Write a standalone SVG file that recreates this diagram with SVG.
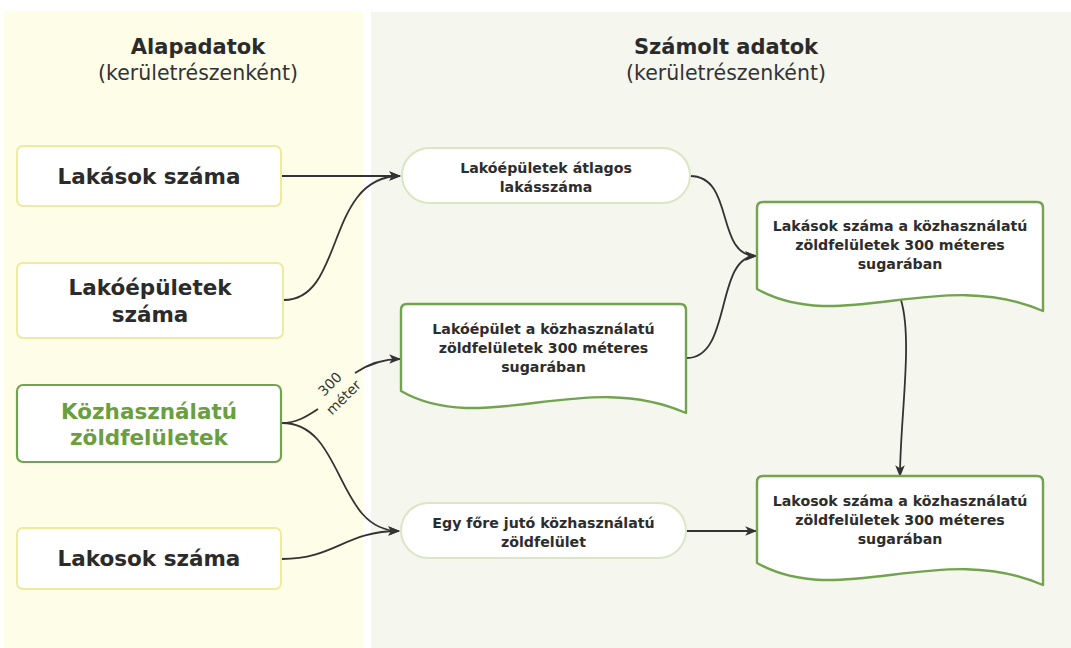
<svg xmlns="http://www.w3.org/2000/svg" width="1071" height="648" viewBox="0 0 1071 648">
<style>
.big{font-family:"DejaVu Sans",sans-serif;font-weight:bold;font-size:21.5px;fill:#2b2b2b;text-anchor:middle}
.big.g{fill:#6a9e3f}
.sm{font-family:"DejaVu Sans",sans-serif;font-weight:bold;font-size:14.2px;fill:#2d2d2d;text-anchor:middle}
.hd{font-family:"DejaVu Sans",sans-serif;font-weight:bold;font-size:21px;fill:#2b2b2b;text-anchor:middle}
.sub{font-family:"DejaVu Sans",sans-serif;font-size:20.5px;fill:#333;text-anchor:middle}
.lbl{font-family:"DejaVu Sans",sans-serif;font-size:14px;fill:#333;text-anchor:middle}
.yb{fill:#fff;stroke:#eeea9e;stroke-width:2}
.gb{fill:#fff;stroke:#72a34e;stroke-width:2.2}
.st{fill:#fff;stroke:#dce5c4;stroke-width:2}
.doc{fill:#fff;stroke:#72a34e;stroke-width:2.4;stroke-linejoin:round}
.c{fill:none;stroke:#333;stroke-width:1.8;marker-end:url(#arr)}
.cn{fill:none;stroke:#333;stroke-width:1.8}
</style>
<defs>
<marker id="arr" viewBox="0 0 10 10" refX="9" refY="5" markerWidth="12" markerHeight="12" markerUnits="userSpaceOnUse" orient="auto">
<path d="M0,1 L10,5 L0,9 L2.5,5 z" fill="#333"/>
</marker>
</defs>
<rect x="0" y="0" width="1071" height="648" fill="#fff"/>
<g id="panels">
<rect x="4" y="11" width="359" height="637" fill="#fdfde8"/>
<rect x="371" y="12" width="700" height="636" fill="#f5f6ee"/>
<text class="hd" x="198" y="54">Alapadatok</text>
<text class="sub" x="198" y="80">(kerületrészenként)</text>
<text class="hd" x="726" y="54">Számolt adatok</text>
<text class="sub" x="726" y="80">(kerületrészenként)</text>
</g>
<g id="connectors">
<path class="c" d="M282,176 L400,176"/>
<path class="c" d="M284,300 C345,300 325,176 400,176"/>
<path class="cn" d="M282,423 C296,423 306,417 318,409"/>
<path class="c" d="M355,373 C370,363 384,359 400,359"/>
<path class="c" d="M282,423 C345,423 335,531 399,531"/>
<path class="c" d="M282,559 C335,559 345,531 399,531"/>
<path class="c" d="M690,176 C735,176 715,256 756,256"/>
<path class="c" d="M687,358 C732,358 715,256 756,256"/>
<path class="c" d="M687,531 L756,531"/>
<path class="c" d="M901,300 C913,340 900,420 900,476"/>
</g>
<g id="label-300">
<g transform="translate(337,391) rotate(-45)">
<text class="lbl" x="0" y="-5">300</text>
<text class="lbl" x="0" y="14">méter</text>
</g>
</g>
<g id="n-lakasok">
<rect class="yb" x="17" y="146" width="264" height="60" rx="6"/>
<text class="big" x="149" y="184">Lakások száma</text>
</g>
<g id="n-lakoepuletek">
<rect class="yb" x="17" y="263" width="266" height="75" rx="6"/>
<text class="big" x="150" y="295">Lakóépületek</text>
<text class="big" x="150" y="322">száma</text>
</g>
<g id="n-kozhasznalatu">
<rect class="gb" x="17" y="385" width="264" height="77" rx="6"/>
<text class="big g" x="149" y="419">Közhasználatú</text>
<text class="big g" x="149" y="445">zöldfelületek</text>
</g>
<g id="n-lakosok">
<rect class="yb" x="17" y="528" width="264" height="61" rx="6"/>
<text class="big" x="149" y="566">Lakosok száma</text>
</g>
<g id="n-atlagos">
<rect class="st" x="402" y="148" width="288" height="55" rx="27.5"/>
<text class="sm" x="546" y="173">Lakóépületek átlagos</text>
<text class="sm" x="546" y="192">lakásszáma</text>
</g>
<g id="n-lakoepulet-300">
<path class="doc" d="M401,310 Q401,304 407,304 H680 Q686,304 686,310 V413 C584,368 483,438 401,391 Z"/>
<text class="sm" x="543.5" y="334">Lakóépület a közhasználatú</text>
<text class="sm" x="543.5" y="353">zöldfelületek 300 méteres</text>
<text class="sm" x="543.5" y="372">sugarában</text>
</g>
<g id="n-egy-fore">
<rect class="st" x="401" y="503" width="285" height="55" rx="27.5"/>
<text class="sm" x="543.5" y="528">Egy főre jutó közhasználatú</text>
<text class="sm" x="543.5" y="547">zöldfelület</text>
</g>
<g id="n-lakasok-300">
<path class="doc" d="M757,208 Q757,202 763,202 H1037 Q1043,202 1043,208 V311 C940,266 840,336 757,289 Z"/>
<text class="sm" x="900" y="231">Lakások száma a közhasználatú</text>
<text class="sm" x="900" y="250">zöldfelületek 300 méteres</text>
<text class="sm" x="900" y="269">sugarában</text>
</g>
<g id="n-lakosok-300">
<path class="doc" d="M757,482 Q757,476 763,476 H1037 Q1043,476 1043,482 V585 C940,540 840,610 757,563 Z"/>
<text class="sm" x="900" y="506">Lakosok száma a közhasználatú</text>
<text class="sm" x="900" y="525">zöldfelületek 300 méteres</text>
<text class="sm" x="900" y="544">sugarában</text>
</g>
</svg>
